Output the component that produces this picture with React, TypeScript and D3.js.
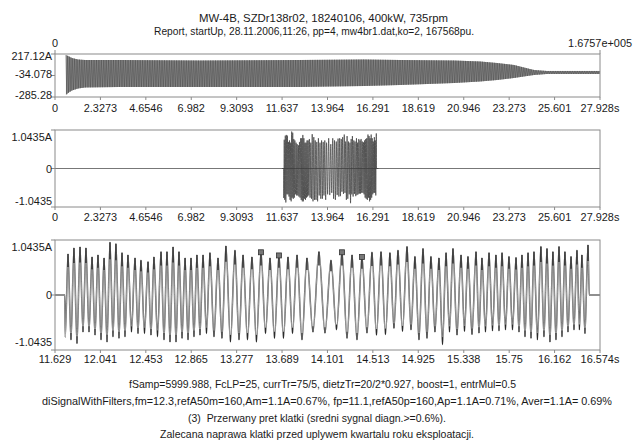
import React from "react";
import * as d3 from "d3";

// ---------- texts ----------
const titleLines = [
  "MW-4B, SZDr138r02, 18240106, 400kW, 735rpm",
  "Report, startUp, 28.11.2006,11:26, pp=4, mw4br1.dat,ko=2, 167568pu.",
];
const footerLines = [
  "fSamp=5999.988, FcLP=25, currTr=75/5, dietzTr=20/2*0.927, boost=1, entrMul=0.5",
  "diSignalWithFilters,fm=12.3,refA50m=160,Am=1.1A=0.67%, fp=11.1,refA50p=160,Ap=1.1A=0.71%, Aver=1.1A= 0.69%",
  "(3)  Przerwany pret klatki (sredni sygnal diagn.>=0.6%).",
  "Zalecana naprawa klatki przed uplywem kwartalu roku eksploatacji.",
];
const sampleAxisLabels = ["0", "1.6757e+005"];

// ---------- axes ----------
const fullTimeDomain = [0, 27.928];
const fullTicks = [0, 2.3273, 4.6546, 6.982, 9.3093, 11.637, 13.964, 16.291, 18.619, 20.946, 23.273, 25.601, 27.928];
const fullTickLabels = ["0", "2.3273", "4.6546", "6.982", "9.3093", "11.637", "13.964", "16.291", "18.619", "20.946", "23.273", "25.601", "27.928s"];
const zoomTimeDomain = [11.629, 16.574];
const zoomTicks = [11.629, 12.041, 12.453, 12.865, 13.277, 13.689, 14.101, 14.513, 14.925, 15.338, 15.75, 16.162, 16.574];
const zoomTickLabels = ["11.629", "12.041", "12.453", "12.865", "13.277", "13.689", "14.101", "14.513", "14.925", "15.338", "15.75", "16.162", "16.574s"];
const currentDomain = [-285.28, 217.12];
const currentTicks = [217.12, -34.078, -285.28];
const currentTickLabels = ["217.12A", "-34.078", "-285.28"];
const diagDomain = [-1.0435, 1.0435];
const diagTicks = [1.0435, 0, -1.0435];
const diagTickLabels = ["1.0435A", "0", "-1.0435"];

// ---------- current envelope (top panel) ----------
const envTimes = [0.56, 0.67, 0.87, 1.18, 1.54, 3.33, 7.43, 12.55, 15.83, 17.68, 20.45, 21.78, 22.65, 23.52, 24.19, 24.55, 25.21, 27.928];
const envUpper = [205, 194, 170, 153, 147, 147, 141, 147, 153, 147, 141, 130, 112, 89, 50, 30, 19, 19];
const envLower = [-262, -239, -209, -186, -174, -168, -168, -168, -157, -145, -122, -104, -87, -63, -40, -28, -16, -16];

// ---------- diagnostic signal (peaks) ----------
const signalStart = 11.718;
const signalEnd = 16.476;
const firstTrough = -0.8;
const peakTimes = [
  11.747, 11.801, 11.856, 11.91, 11.965, 12.019, 12.074, 12.128, 12.182, 12.237,
  12.291, 12.355, 12.409, 12.473, 12.527, 12.591, 12.645, 12.7, 12.754, 12.809,
  12.863, 12.917, 12.972, 13.035, 13.108, 13.18, 13.262, 13.335, 13.416, 13.498,
  13.58, 13.661, 13.743, 13.825, 13.915, 14.024, 14.133, 14.233, 14.324, 14.414,
  14.505, 14.587, 14.668, 14.741, 14.823, 14.895, 14.968, 15.04, 15.113, 15.177,
  15.24, 15.313, 15.376, 15.449, 15.503, 15.567, 15.63, 15.685, 15.748, 15.812,
  15.866, 15.921, 15.975, 16.038, 16.093, 16.147, 16.202, 16.256, 16.311, 16.365,
  16.41, 16.465,
];
const peakValues = [
  0.78, 0.89, 0.91, 0.89, 0.72, 0.76, 0.7, 1.0, 0.97, 0.8,
  0.76, 0.7, 0.66, 0.63, 0.72, 0.82, 0.82, 0.91, 0.82, 0.7,
  0.7, 0.76, 0.76, 0.8, 0.7, 0.93, 0.85, 0.76, 0.72, 0.82,
  0.7, 0.76, 0.72, 0.76, 0.7, 0.82, 0.66, 0.82, 0.76, 0.73,
  0.81, 0.82, 0.8, 0.85, 0.92, 0.73, 0.88, 0.73, 0.7, 0.8,
  0.88, 0.76, 0.73, 0.82, 0.7, 0.8, 0.76, 0.8, 0.73, 0.71,
  0.76, 0.8, 0.82, 0.92, 0.88, 0.82, 0.92, 0.82, 0.73, 0.85,
  0.76, 0.95,
];
const troughValues = [
  -0.85, -0.92, -0.7, -0.7, -0.76, -0.85, -0.89, -0.79, -0.82, -0.79,
  -0.7, -0.73, -0.73, -0.76, -0.79, -0.85, -0.89, -0.89, -0.82, -0.85,
  -0.79, -0.76, -0.73, -0.79, -0.82, -0.89, -0.85, -0.85, -0.89, -0.73,
  -0.82, -0.82, -0.73, -0.85, -0.7, -0.72, -0.66, -0.82, -0.85, -0.72,
  -0.76, -0.75, -0.63, -0.69, -0.66, -0.85, -0.82, -0.7, -0.94, -0.7,
  -0.76, -0.69, -0.75, -0.72, -0.7, -0.68, -0.68, -0.66, -0.66, -0.7,
  -0.79, -0.82, -0.85, -0.79, -0.89, -0.85, -0.79, -0.7, -0.66, -0.66,
  -0.73,
];
const markedPeaks = [29, 31, 37, 39];

// ---------- layout ----------
const W = 634;
const H = 440;
const X0 = 55;
const X1 = 600;
const P1 = { top: 54, bottom: 97 };
const P2 = { top: 130, bottom: 207 };
const P3 = { top: 240, bottom: 350 };
const FONT = "'Liberation Sans', Arial, Helvetica, sans-serif";
const TXT = "#1a1a1a";
const FRAME = "#8a8a8a";

function buildSignal(): [number, number][] {
  const pts: [number, number][] = [];
  pts.push([zoomTimeDomain[0], 0]);
  pts.push([signalStart, 0]);
  pts.push([signalStart + 0.004, firstTrough]);
  peakTimes.forEach((t, i) => {
    pts.push([t, peakValues[i]]);
    if (i < troughValues.length) pts.push([(t + peakTimes[i + 1]) / 2, troughValues[i]]);
  });
  pts.push([signalEnd, 0]);
  pts.push([zoomTimeDomain[1], 0]);
  return pts;
}

function XAxis({ x, ticks, labels, bottom, labelY }: any) {
  return (
    <g>
      {ticks.map((t: number, i: number) => (
        <g key={i}>
          <line x1={x(t)} x2={x(t)} y1={bottom} y2={bottom + 3} stroke={FRAME} strokeWidth={1} />
          <text x={x(t)} y={labelY} textAnchor="middle" fontFamily={FONT} fontSize={10.9} fill={TXT}>
            {labels[i]}
          </text>
        </g>
      ))}
    </g>
  );
}

function YAxis({ y, ticks, labels, labelYs }: any) {
  return (
    <g>
      {ticks.map((v: number, i: number) => (
        <g key={i}>
          <line x1={X0 - 4} x2={X0} y1={y(v)} y2={y(v)} stroke={FRAME} strokeWidth={1} />
          <text x={X0 - 3} y={labelYs[i]} textAnchor="end" fontFamily={FONT} fontSize={10.9} fill={TXT}>
            {labels[i]}
          </text>
        </g>
      ))}
    </g>
  );
}

export default function App() {
  const xFull = d3.scaleLinear().domain(fullTimeDomain).range([X0, X1]);
  const xZoom = d3.scaleLinear().domain(zoomTimeDomain).range([X0, X1]);
  const y1 = d3.scaleLinear().domain(currentDomain).range([P1.bottom, P1.top]);
  const y2 = d3.scaleLinear().domain(diagDomain).range([P2.bottom, P2.top]);
  const y3 = d3.scaleLinear().domain(diagDomain).range([P3.bottom, P3.top]);

  // top panel: dense oscillation drawn between read envelopes
  const envU = d3.scaleLinear().domain(envTimes).range(envUpper);
  const envL = d3.scaleLinear().domain(envTimes).range(envLower);
  const dt = ((fullTimeDomain[1] - fullTimeDomain[0]) / (X1 - X0)) * 0.85;
  const zig: [number, number][] = [];
  let k = 0;
  for (let t = envTimes[0]; t <= envTimes[envTimes.length - 1]; t += dt, k++) {
    zig.push([t, k % 2 === 0 ? envU(t) : envL(t)]);
  }
  const zigLine = d3
    .line<[number, number]>()
    .x((d) => xFull(d[0]))
    .y((d) => y1(d[1]));
  const envArea = d3
    .area<number>()
    .x((d) => xFull(d))
    .y0((_, i) => y1(envLower[i]))
    .y1((_, i) => y1(envUpper[i]));

  const sig = buildSignal();
  const midLine = d3
    .line<[number, number]>()
    .x((d) => xFull(d[0]))
    .y((d) => y2(d[1]))
    .curve(d3.curveMonotoneX);
  const botLine = d3
    .line<[number, number]>()
    .x((d) => xZoom(d[0]))
    .y((d) => y3(d[1]))
    .curve(d3.curveMonotoneX);

  return (
    <svg width={W} height={H} style={{ position: "absolute", left: 0, top: 0, background: "#fff" }}>
      <rect x={0} y={0} width={W} height={H} fill="#fff" />
      {/* titles */}
      <text x={199} y={22} fontFamily={FONT} fontSize={11.2} fill={TXT} textLength={249} lengthAdjust="spacingAndGlyphs">
        {titleLines[0]}
      </text>
      <text x={154} y={35} fontFamily={FONT} fontSize={11.2} fill={TXT} textLength={320} lengthAdjust="spacingAndGlyphs">
        {titleLines[1]}
      </text>
      <text x={X0} y={47} textAnchor="middle" fontFamily={FONT} fontSize={10.9} fill={TXT}>
        {sampleAxisLabels[0]}
      </text>
      <text x={632} y={47} textAnchor="end" fontFamily={FONT} fontSize={10.9} fill={TXT}>
        {sampleAxisLabels[1]}
      </text>
      <line x1={X0} x2={X0} y1={P1.top - 4} y2={P1.top} stroke={FRAME} />
      <line x1={X1} x2={X1} y1={P1.top - 4} y2={P1.top} stroke={FRAME} />

      {/* panel 1 */}
      <g>
        <path d={envArea(envTimes) || ""} fill="#9a9a9a" stroke="none" />
        <path d={zigLine(zig) || ""} fill="none" stroke="#444" strokeWidth={0.5} />
        <rect x={X0} y={P1.top} width={X1 - X0} height={P1.bottom - P1.top} fill="none" stroke={FRAME} strokeWidth={1} />
        <YAxis y={y1} ticks={currentTicks} labels={currentTickLabels} labelYs={[60, 78, 99]} />
        <XAxis x={xFull} ticks={fullTicks} labels={fullTickLabels} bottom={P1.bottom} labelY={112} />
      </g>

      {/* panel 2 */}
      <g>
        <line x1={X0} x2={X1} y1={y2(0)} y2={y2(0)} stroke="#777" strokeWidth={1} />
        <path d={midLine(sig) || ""} fill="none" stroke="#3a3a3a" strokeWidth={0.7} />
        <rect x={X0} y={P2.top} width={X1 - X0} height={P2.bottom - P2.top} fill="none" stroke={FRAME} strokeWidth={1} />
        <YAxis y={y2} ticks={diagTicks} labels={diagTickLabels} labelYs={[141, 173, 205]} />
        <XAxis x={xFull} ticks={fullTicks} labels={fullTickLabels} bottom={P2.bottom} labelY={221} />
      </g>

      {/* panel 3 */}
      <g>
        <path d={botLine(sig) || ""} fill="none" stroke="#4a4a4a" strokeWidth={1.5} />
        <path d={botLine(sig) || ""} fill="none" stroke="#cfcfcf" strokeWidth={0.6} />
        {peakTimes.map((t, i) => (
          <line key={"p" + i} x1={xZoom(t)} x2={xZoom(t)} y1={y3(peakValues[i])} y2={y3(peakValues[i] * 0.68)} stroke="#1e1e1e" strokeWidth={1.3} />
        ))}
        {troughValues.map((v, i) => {
          const t = (peakTimes[i] + peakTimes[i + 1]) / 2;
          return <line key={"t" + i} x1={xZoom(t)} x2={xZoom(t)} y1={y3(v)} y2={y3(v * 0.85)} stroke="#2a2a2a" strokeWidth={1.1} />;
        })}
        {markedPeaks.map((i) => (
          <rect key={"m" + i} x={xZoom(peakTimes[i]) - 2.5} y={y3(peakValues[i]) - 2} width={5} height={5} fill="#777" stroke="#333" strokeWidth={0.8} />
        ))}
        <rect x={X0} y={P3.top} width={X1 - X0} height={P3.bottom - P3.top} fill="none" stroke={FRAME} strokeWidth={1} />
        <YAxis y={y3} ticks={diagTicks} labels={diagTickLabels} labelYs={[251, 299, 346]} />
        <XAxis x={xZoom} ticks={zoomTicks} labels={zoomTickLabels} bottom={P3.bottom} labelY={363} />
      </g>

      {/* footer */}
      <text x={129} y={388} fontFamily={FONT} fontSize={11} fill={TXT} textLength={387} lengthAdjust="spacingAndGlyphs">
        {footerLines[0]}
      </text>
      <text x={42} y={405} fontFamily={FONT} fontSize={10.6} fill={TXT} textLength={570} lengthAdjust="spacingAndGlyphs">
        {footerLines[1]}
      </text>
      <text x={188} y={422} fontFamily={FONT} fontSize={11} fill={TXT} textLength={258} lengthAdjust="spacingAndGlyphs" xmlSpace="preserve">
        {footerLines[2]}
      </text>
      <text x={160} y={438} fontFamily={FONT} fontSize={11} fill={TXT} textLength={314} lengthAdjust="spacingAndGlyphs">
        {footerLines[3]}
      </text>
    </svg>
  );
}
